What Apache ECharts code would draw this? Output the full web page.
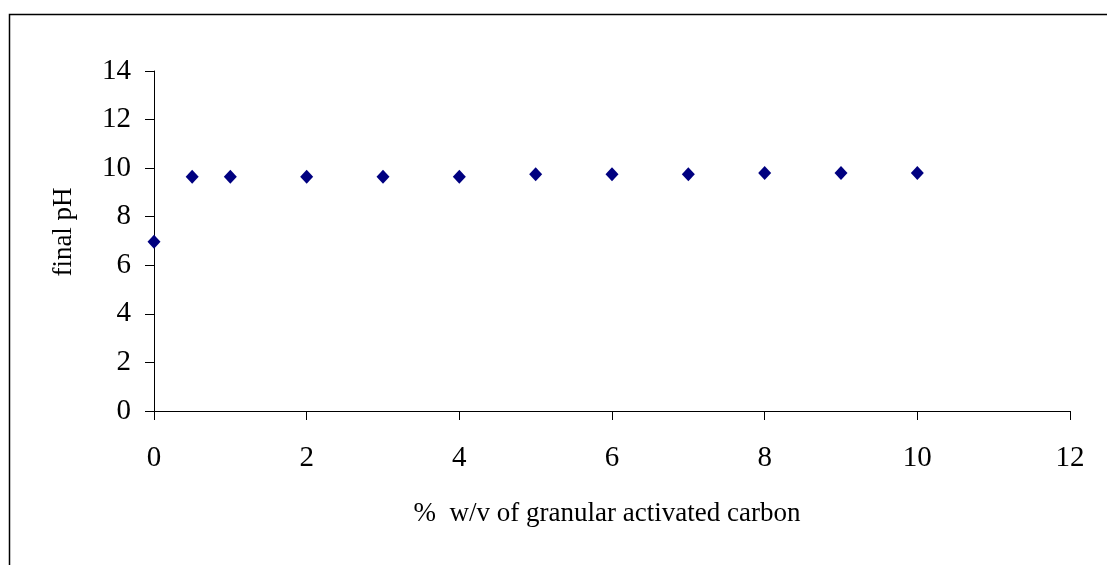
<!DOCTYPE html>
<html>
<head>
<meta charset="utf-8">
<script src="https://cdn.jsdelivr.net/npm/echarts@6/dist/echarts.min.js"></script>
<style>html,body{margin:0;padding:0;background:#fff}#c{width:1107px;height:565px}</style>
</head>
<body>
<div id="c"></div>
<script>
var carbonPct = [0, 0.5, 1, 2, 3, 4, 5, 6, 7, 8, 9, 10];
var finalPH = [6.97, 9.65, 9.65, 9.65, 9.65, 9.65, 9.75, 9.75, 9.75, 9.8, 9.8, 9.8];
var xTitle = '%  w/v of granular activated carbon';
var yTitle = 'final pH';

var chart = echarts.init(document.getElementById('c'), null, {renderer: 'canvas'});
var font = '"Liberation Serif", "Times New Roman", serif';
chart.setOption({
  animation: false,
  backgroundColor: '#fff',
  grid: {left: 154, right: 37, top: 71, bottom: 154},
  xAxis: {
    type: 'value', min: 0, max: 12, interval: 2,
    axisLine: {lineStyle: {color: '#000', width: 1}},
    axisTick: {show: true, inside: false, length: 9, lineStyle: {color: '#000'}},
    axisLabel: {color: '#000', fontFamily: font, fontSize: 29, margin: 33},
    splitLine: {show: false}
  },
  yAxis: {
    type: 'value', min: 0, max: 14, interval: 2,
    axisLine: {show: true, lineStyle: {color: '#000', width: 1}},
    axisTick: {show: true, inside: false, length: 9, lineStyle: {color: '#000'}},
    axisLabel: {color: '#000', fontFamily: font, fontSize: 29, margin: 23},
    splitLine: {show: false}
  },
  graphic: [
    {type: 'rect', shape: {x: 9.5, y: 14.5, width: 1200, height: 700}, style: {fill: 'none', stroke: '#000', lineWidth: 1.5}, silent: true},
    {type: 'text', x: 607, y: 514, style: {text: xTitle, font: '27px ' + font, fill: '#000', textAlign: 'center', textVerticalAlign: 'middle'}},
    {type: 'text', x: 64, y: 232, rotation: Math.PI / 2, style: {text: yTitle, font: '27px ' + font, fill: '#000', textAlign: 'center', textVerticalAlign: 'middle'}}
  ],
  series: [{
    type: 'scatter',
    data: carbonPct.map(function (x, i) { return [x, finalPH[i]]; }),
    symbol: 'diamond',
    symbolSize: [13, 14],
    itemStyle: {color: '#000080', opacity: 1}
  }]
});
</script>
</body>
</html>
